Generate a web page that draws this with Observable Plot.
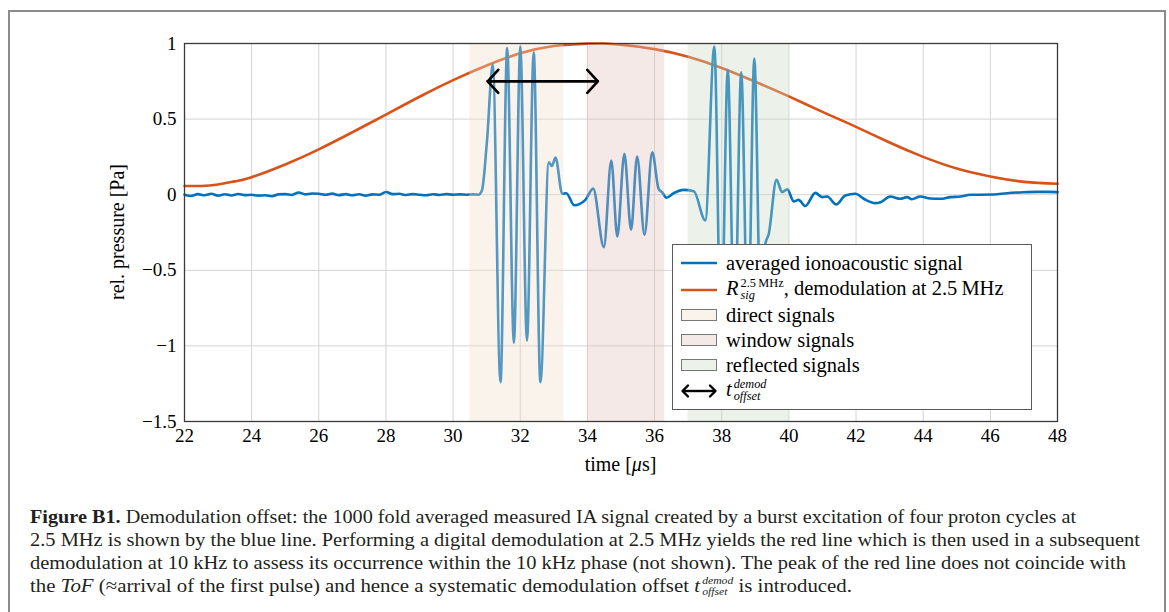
<!DOCTYPE html>
<html><head><meta charset="utf-8">
<script src="https://cdn.jsdelivr.net/npm/d3@7"></script>
<script src="https://cdn.jsdelivr.net/npm/@observablehq/plot@0.6"></script>
<style>
body{margin:0;background:#fff;width:1169px;height:612px;overflow:hidden;position:relative;font-family:"Liberation Serif",serif;color:#000;}
#border{position:absolute;left:8px;top:10px;width:1158px;height:700px;border:2px solid #8c8c8c;box-sizing:border-box;}
#chart{position:absolute;left:0;top:0;}
#legend{position:absolute;left:672px;top:244px;width:360px;height:166px;border:1.3px solid #5a5a5a;background:#fff;box-sizing:border-box;font-size:20.5px;}
#legend .row{position:absolute;left:6px;height:26px;display:flex;align-items:center;white-space:nowrap;transform:translateY(-50%);}
#legend .row svg{margin-right:7px;flex:none;}
.ss{display:inline-block;vertical-align:middle;line-height:1;font-size:0.6em;text-align:left;position:relative;top:-0.1em;margin-left:2px;}
.ss span{display:block;}
#caption{position:absolute;left:30px;top:505px;font-size:19.5px;line-height:23px;color:#231f20;}
#caption .ln{display:block;white-space:nowrap;width:max-content;transform-origin:0 0;}
#caption .ss{font-size:0.56em;top:-0.15em;}
</style></head><body>
<div id="border"></div>
<div id="chart"></div>
<div id="legend">
  <div class="row" style="top:18px"><svg width="40" height="14"><line x1="2" x2="38" y1="7" y2="7" stroke="#0072bd" stroke-width="2.6"/></svg><span>averaged ionoacoustic signal</span></div>
  <div class="row" style="top:45px"><svg width="40" height="14"><line x1="2" x2="38" y1="7" y2="7" stroke="#d95319" stroke-width="2.6"/></svg><span><i>R</i><span class="ss"><span>2.5&#8201;MHz</span><span><i>sig</i></span></span>, demodulation at 2.5&#8201;MHz</span></div>
  <div class="row" style="top:70px"><svg width="40" height="14"><rect x="2.5" y="1.5" width="35" height="11" fill="#faf3ec" stroke="#777" stroke-width="1"/></svg><span>direct signals</span></div>
  <div class="row" style="top:95px"><svg width="40" height="14"><rect x="2.5" y="1.5" width="35" height="11" fill="#f5e9e7" stroke="#777" stroke-width="1"/></svg><span>window signals</span></div>
  <div class="row" style="top:120px"><svg width="40" height="14"><rect x="2.5" y="1.5" width="35" height="11" fill="#ecf2ea" stroke="#777" stroke-width="1"/></svg><span>reflected signals</span></div>
  <div class="row" style="top:146px"><svg width="40" height="16"><line x1="4" x2="36" y1="8" y2="8" stroke="#000" stroke-width="2.4"/><path d="M9,2.5 L3.5,8 L9,13.5 M31,2.5 L36.5,8 L31,13.5" fill="none" stroke="#000" stroke-width="2.4" stroke-linecap="round" stroke-linejoin="round"/></svg><span><i>t</i><span class="ss"><span><i>demod</i></span><span><i>offset</i></span></span></span></div>
</div>
<div id="caption">
  <span class="ln" data-w="1046"><b>Figure B1.</b> Demodulation offset: the 1000 fold averaged measured IA signal created by a burst excitation of four proton cycles at</span>
  <span class="ln" data-w="1110">2.5 MHz is shown by the blue line. Performing a digital demodulation at 2.5 MHz yields the red line which is then used in a subsequent</span>
  <span class="ln" data-w="1096">demodulation at 10 kHz to assess its occurrence within the 10 kHz phase (not shown). The peak of the red line does not coincide with</span>
  <span class="ln" data-w="822">the <i>ToF</i> (≈arrival of the first pulse) and hence a systematic demodulation offset <i>t</i><span class="ss"><span><i>demod</i></span><span><i>offset</i></span></span> is introduced.</span>
</div>
<script>
// ---- data ----
const signalTime = [22.0,22.2,22.4,22.6,22.8,23.0,23.2,23.4,23.6,23.8,24.0,24.2,24.4,24.6,24.8,25.0,25.2,25.4,25.6,25.8,26.0,26.2,26.4,26.6,26.8,27.0,27.2,27.4,27.6,27.8,28.0,28.2,28.4,28.6,28.8,29.0,29.2,29.4,29.6,29.8,30.0,30.2,30.4,30.6,30.75,30.86,31.01,31.18,31.41,31.61,31.81,32.00,32.20,32.40,32.60,32.85,32.94,33.05,33.25,33.37,33.61,33.94,34.17,34.49,34.71,34.89,35.10,35.30,35.48,35.70,35.93,36.12,36.22,36.35,36.57,36.85,37.17,37.51,37.78,37.98,38.18,38.38,38.58,38.78,38.97,39.17,39.30,39.40,39.63,39.80,39.95,40.15,40.29,40.49,40.79,40.99,41.14,41.41,41.68,41.98,42.23,42.57,42.73,43.02,43.32,43.52,43.66,43.91,44.21,44.51,44.81,45.11,45.41,45.70,46.10,46.50,46.89,47.39,47.69,48.0];
const signalValue = [0.0,-0.008,0.004,-0.004,0.006,-0.006,0.003,-0.005,0.005,-0.003,0.0,-0.006,-0.004,-0.01,0.002,0.004,-0.002,0.015,0.002,0.008,0.006,0.0,0.007,-0.003,0.004,-0.004,0.003,-0.006,0.002,0.0,0.018,0.004,0.006,-0.002,0.004,0.0,-0.004,0.003,-0.002,0.004,0.0,0.002,0.0,0.002,0.0,0.03,0.36,0.86,-1.24,0.97,-0.98,0.98,-0.965,0.94,-1.24,0.215,0.19,0.245,0.006,0.01,-0.07,-0.034,0.04,-0.347,0.226,-0.276,0.27,-0.232,0.253,-0.266,0.281,0.039,0.017,-0.02,0.01,0.032,0.023,-0.17,0.98,-1.0,0.826,-0.95,0.81,-0.95,0.9,-0.9,-0.325,-0.26,0.098,0.017,0.035,-0.045,-0.034,-0.075,0.012,-0.016,-0.012,-0.065,-0.005,0.006,-0.027,-0.056,-0.05,-0.012,-0.027,-0.016,-0.03,-0.012,-0.025,-0.027,-0.016,-0.012,0.0,0.0,0.001,0.01,0.015,0.019,0.019,0.017];
const demodTime = [22.0,22.5,23.0,23.5,24.0,25.0,26.0,27.0,28.0,29.0,30.0,31.0,32.0,33.0,34.0,34.5,35.0,36.0,37.0,38.0,39.0,40.0,41.0,42.0,43.0,44.0,45.0,46.0,47.0,48.0];
const demodValue = [0.058,0.058,0.068,0.088,0.116,0.2,0.3,0.413,0.53,0.648,0.758,0.855,0.935,0.983,0.999,1.0,0.992,0.963,0.912,0.838,0.747,0.65,0.548,0.449,0.345,0.25,0.173,0.12,0.085,0.072];
const regionNames = ["direct signals","window signals","reflected signals"];
const regionStart = [30.5,34.0,37.0];
const regionEnd = [33.3,36.3,40.0];
const regionColors = ["#f1ddc9","#e2c0ba","#c9dac3"];
const offsetStart = [31.03];
const offsetEnd = [34.31];
const offsetLevel = [0.75];
const xTicks = [22,24,26,28,30,32,34,36,38,40,42,44,46,48];
const yTicks = [-1.5,-1,-0.5,0,0.5,1];

const signal = signalTime.map((t,i)=>({t, v: signalValue[i]}));
const demod = demodTime.map((t,i)=>({t, v: demodValue[i]}));
const regions = regionNames.map((n,i)=>({n, a: regionStart[i], b: regionEnd[i], c: regionColors[i]}));
const offsets = offsetStart.map((s,i)=>({s, e: offsetEnd[i], y: offsetLevel[i]}));

const plot = Plot.plot({
  width: 1169, height: 480,
  marginLeft: 184, marginRight: 112, marginTop: 43, marginBottom: 59,
  style: {fontFamily: '"Liberation Serif", serif', fontSize: "19px", background: "transparent", color: "#000"},
  x: {domain: [22, 48]},
  y: {domain: [-1.5, 1]},
  marks: [
    Plot.gridX(xTicks, {stroke: "#d4d4d4", strokeOpacity: 1, strokeWidth: 1}),
    Plot.gridY(yTicks, {stroke: "#d4d4d4", strokeOpacity: 1, strokeWidth: 1}),
    Plot.line(demod, {x: "t", y: "v", stroke: "#d95319", strokeWidth: 2.6, curve: "natural"}),
    Plot.line(signal, {x: "t", y: "v", stroke: "#0072bd", strokeWidth: 2.6, curve: "monotone-x"}),
    Plot.rect(regions, {x1: "a", x2: "b", fill: "c", fillOpacity: 0.35}),
    Plot.arrow(offsets, {x1: "s", x2: "e", y1: "y", y2: "y", stroke: "#000", strokeWidth: 2.6, headLength: 9, headAngle: 95}),
    Plot.arrow(offsets, {x1: "e", x2: "s", y1: "y", y2: "y", stroke: "#000", strokeWidth: 2.6, headLength: 9, headAngle: 95}),
    Plot.frame({stroke: "#3a3a3a", strokeWidth: 1.3}),
    Plot.axisX(xTicks, {tickSize: 0, tickPadding: 7, label: null, fontSize: 19}),
    Plot.axisY(yTicks, {tickSize: 0, tickPadding: 8, label: null, fontSize: 19, tickFormat: d => String(d).replace("-", "\u2212")})
  ]
});
document.getElementById("chart").appendChild(plot);
const svg = d3.select(plot);
const xs = plot.scale("x"), ys = plot.scale("y");
svg.append("text").attr("x", (xs.range[0]+xs.range[1])/2).attr("y", 471)
  .attr("text-anchor","middle").attr("font-size", 20).attr("fill","#000")
  .html('time [<tspan font-style="italic">μ</tspan>s]');
svg.append("text").attr("transform", `translate(124,${(ys.range[0]+ys.range[1])/2}) rotate(-90)`)
  .attr("text-anchor","middle").attr("font-size", 20).attr("fill","#000")
  .text("rel. pressure [Pa]");

document.querySelectorAll("#caption .ln").forEach(el => {
  const w = el.getBoundingClientRect().width;
  const target = +el.dataset.w;
  el.style.transform = `scaleX(${target / w})`;
});
</script>
</body></html>
